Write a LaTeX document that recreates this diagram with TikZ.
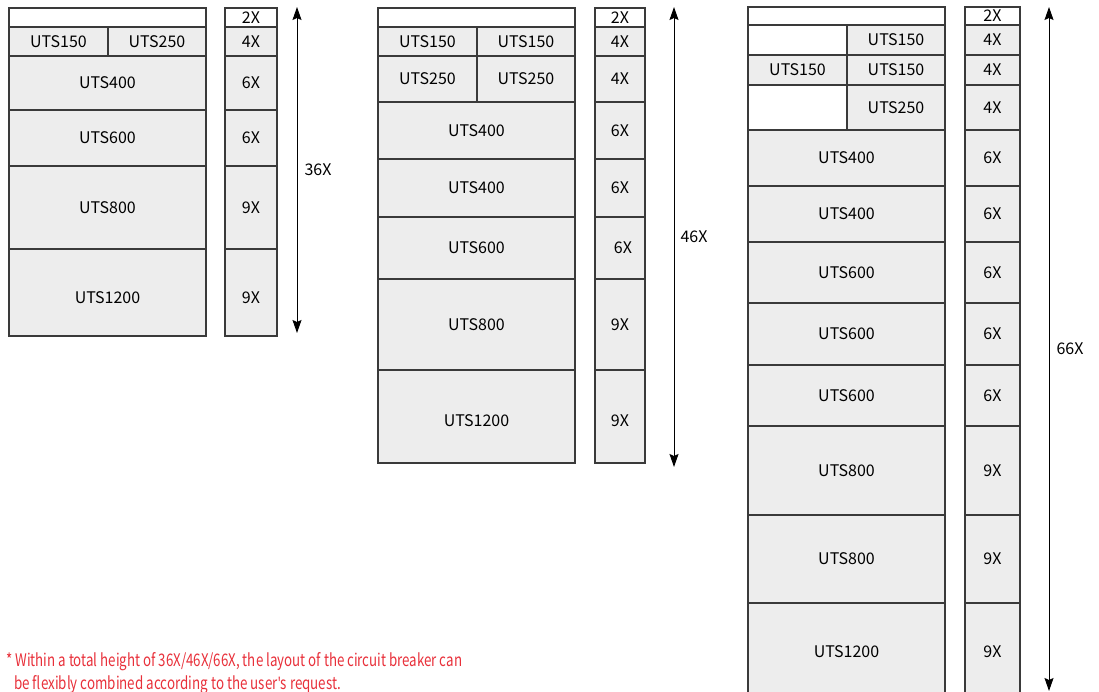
\documentclass[tikz,border=0pt]{standalone}
\usepackage{fontspec}
\setmainfont{Noto Sans CJK SC}
\newfontfamily\latinfont{Noto Sans}
\usetikzlibrary{arrows.meta}
\definecolor{cellgray}{HTML}{EDEDED}
\definecolor{edgegray}{HTML}{3A3A3A}
\definecolor{notered}{HTML}{E8303A}
\tikzset{
  cellst/.style={draw=edgegray, line width=1.3pt, fill=cellgray, inner sep=0pt, outer sep=0pt, font=\fontsize{16}{18}\selectfont},
  blankst/.style={cellst, fill=white},
  dimarrow/.style={line width=1pt, {Stealth[length=13pt,width=9pt,inset=2pt]}-{Stealth[length=13pt,width=9pt,inset=2pt]}},
  dimlabel/.style={inner sep=0pt, font=\fontsize{16}{18}\selectfont},
  notest/.style={inner sep=0pt, anchor=base west, text=notered, font=\fontsize{14}{16}\selectfont}
}
\newcommand\cellbox[7][cellst]{%
  \pgfmathsetmacro\cw{#5-#3}\pgfmathsetmacro\ch{#6-#4}%
  \node[#1, minimum width=\cw pt, minimum height=\ch pt] (#2) at ({(#3+#5)/2},{(#4+#6)/2}) {#7};}
\newcommand\lowertext[2]{\raisebox{-#1}[0pt][0pt]{#2}}
\begin{document}
\begin{tikzpicture}[x=1pt,y=-1pt]
\useasboundingbox (0,0) rectangle (1099,692);
% ---------- column 1 ----------
\cellbox[blankst]{a0}{9}{8}{206}{27}{}
\cellbox{a1l}{9}{27}{108}{56}{UTS150}
\cellbox{a1r}{108}{27}{206}{56}{UTS250}
\cellbox{a2}{9}{56}{206}{110}{UTS400}
\cellbox{a3}{9}{110}{206}{166}{UTS600}
\cellbox{a4}{9}{166}{206}{249}{UTS800}
\cellbox{a5}{9}{249}{206}{336}{\lowertext{11pt}{UTS1200}}
\cellbox[blankst]{ar0}{225}{8}{277}{27}{2X}
\cellbox{ar1}{225}{27}{277}{56}{4X}
\cellbox{ar2}{225}{56}{277}{110}{6X}
\cellbox{ar3}{225}{110}{277}{166}{6X}
\cellbox{ar4}{225}{166}{277}{249}{9X}
\cellbox{ar5}{225}{249}{277}{336}{\lowertext{11pt}{9X}}
\coordinate (at) at (297,7);
\coordinate (ab) at (297,333);
\draw[dimarrow] (at) -- (ab);
\node[dimlabel] (al) at (318,170) {36X};
% ---------- column 2 ----------
\cellbox[blankst]{b0}{378}{8}{575}{27}{}
\cellbox{b1l}{378}{27}{477}{56}{UTS150}
\cellbox{b1r}{477}{27}{575}{56}{UTS150}
\cellbox{b2l}{378}{56}{477}{102}{UTS250}
\cellbox{b2r}{477}{56}{575}{102}{UTS250}
\cellbox{b3}{378}{102}{575}{159}{UTS400}
\cellbox{b4}{378}{159}{575}{217}{UTS400}
\cellbox{b5}{378}{217}{575}{279}{UTS600}
\cellbox{b6}{378}{279}{575}{370}{UTS800}
\cellbox{b7}{378}{370}{575}{463}{\lowertext{9.5pt}{UTS1200}}
\cellbox[blankst]{br0}{595}{8}{645}{27}{2X}
\cellbox{br1}{595}{27}{645}{56}{4X}
\cellbox{br2}{595}{56}{645}{102}{4X}
\cellbox{br3}{595}{102}{645}{159}{6X}
\cellbox{br4}{595}{159}{645}{217}{6X}
\cellbox{br5}{595}{217}{645}{279}{\hspace{6pt}6X}
\cellbox{br6}{595}{279}{645}{370}{9X}
\cellbox{br7}{595}{370}{645}{463}{\lowertext{9.5pt}{9X}}
\coordinate (bt) at (674,7);
\coordinate (bb) at (674,467);
\draw[dimarrow] (bt) -- (bb);
\node[dimlabel] (bl) at (694,237) {46X};
% ---------- column 3 ----------
\cellbox[blankst]{c0}{748}{7}{945}{25}{}
\cellbox[blankst]{c1l}{748}{25}{847}{55}{}
\cellbox{c1r}{847}{25}{945}{55}{UTS150}
\cellbox{c2l}{748}{55}{847}{85}{UTS150}
\cellbox{c2r}{847}{55}{945}{85}{UTS150}
\cellbox[blankst]{c3l}{748}{85}{847}{130}{}
\cellbox{c3r}{847}{85}{945}{130}{UTS250}
\cellbox{c4}{748}{130}{945}{186}{UTS400}
\cellbox{c5}{748}{186}{945}{242}{UTS400}
\cellbox{c6}{748}{242}{945}{303}{UTS600}
\cellbox{c7}{748}{303}{945}{365}{UTS600}
\cellbox{c8}{748}{365}{945}{426}{UTS600}
\cellbox{c9}{748}{426}{945}{515}{UTS800}
\cellbox{c10}{748}{515}{945}{603}{UTS800}
\cellbox{c11}{748}{603}{945}{700}{UTS1200}
\cellbox[blankst]{cr0}{965}{7}{1020}{25}{2X}
\cellbox{cr1}{965}{25}{1020}{55}{4X}
\cellbox{cr2}{965}{55}{1020}{85}{4X}
\cellbox{cr3}{965}{85}{1020}{130}{4X}
\cellbox{cr4}{965}{130}{1020}{186}{6X}
\cellbox{cr5}{965}{186}{1020}{242}{6X}
\cellbox{cr6}{965}{242}{1020}{303}{6X}
\cellbox{cr7}{965}{303}{1020}{365}{6X}
\cellbox{cr8}{965}{365}{1020}{426}{6X}
\cellbox{cr9}{965}{426}{1020}{515}{9X}
\cellbox{cr10}{965}{515}{1020}{603}{9X}
\cellbox{cr11}{965}{603}{1020}{700}{9X}
\coordinate (ct) at (1049,7);
\coordinate (cb) at (1049,691);
\draw[dimarrow] (ct) -- (cb);
\node[dimlabel] (cl) at (1070,349) {66X};
% ---------- footnote ----------
\node[notest] (n1) at (6,666) {\resizebox{456pt}{14pt}{* Within a total height of 36X/46X/66X, the layout of the circuit breaker can}};
\node[notest] (n2) at (14,689) {\resizebox{327pt}{14pt}{be flexibly combined according to the user{\latinfont'}s request.}};
\end{tikzpicture}
\end{document}
